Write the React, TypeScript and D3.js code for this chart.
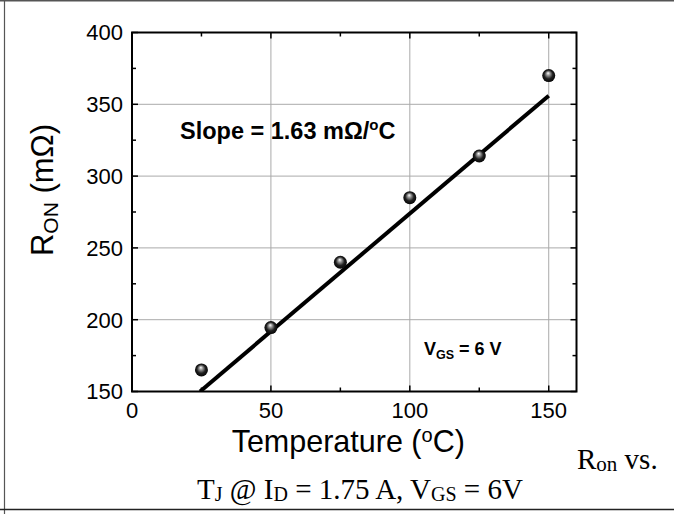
import React from "react";
import * as d3 from "d3";

const temps = [25, 50, 75, 100, 125, 150];
const ron = [165, 194.5, 240, 285, 314, 370];
const fitX = [24.5, 150];
const fitY = [150, 356];
const xTicks = [0, 50, 100, 150];
const xMinor = [25, 75, 125];
const yTicks = [150, 200, 250, 300, 350, 400];
const yMinor = [175, 225, 275, 325, 375];
const xGrid = [50, 100, 150];
const yGrid = [200, 250, 300, 350];

const W = 674, H = 514;
const L = 132, R = 576.5, T = 32.5, B = 391.5;

export default function App() {
  const x = d3.scaleLinear().domain([0, 160]).range([L, R]);
  const y = d3.scaleLinear().domain([150, 400]).range([B, T]);
  const line = d3.line<number>().x((d) => x(fitX[d])).y((d) => y(fitY[d]));
  const sans = "Arial, 'Liberation Sans', sans-serif";
  const serif = "'Times New Roman', 'Liberation Serif', serif";
  return (
    <svg width={W} height={H} style={{ position: "absolute", left: 0, top: 0, background: "#fff" }}>
      <defs>
        <radialGradient id="ball" cx="0.5" cy="0.5" r="0.55" fx="0.45" fy="0.3">
          <stop offset="0" stopColor="#ffffff" />
          <stop offset="0.25" stopColor="#9a9a9a" />
          <stop offset="0.6" stopColor="#202020" />
          <stop offset="1" stopColor="#000000" />
        </radialGradient>
        <clipPath id="plotclip">
          <rect x={L} y={T} width={R - L} height={B - T} />
        </clipPath>
      </defs>
      {/* page borders */}
      <line x1={0} x2={W} y1={0.5} y2={0.5} stroke="#555" strokeWidth={2} />
      <line x1={4.5} x2={4.5} y1={0} y2={514} stroke="#555" strokeWidth={1.2} />
      <line x1={0} x2={W} y1={509.5} y2={509.5} stroke="#222" strokeWidth={1.5} />
      {/* grid */}
      {xGrid.map((v) => (
        <line key={"gx" + v} x1={x(v)} x2={x(v)} y1={T} y2={B} stroke="#aaa" strokeWidth={1} />
      ))}
      {yGrid.map((v) => (
        <line key={"gy" + v} x1={L} x2={R} y1={y(v)} y2={y(v)} stroke="#aaa" strokeWidth={1} />
      ))}
      {/* ticks */}
      {xTicks.concat(xMinor).map((v) => {
        const len = xMinor.includes(v) ? 4 : 6;
        return (
          <g key={"tx" + v}>
            <line x1={x(v)} x2={x(v)} y1={B} y2={B - len} stroke="#000" strokeWidth={1.5} />
            <line x1={x(v)} x2={x(v)} y1={T} y2={T + len} stroke="#000" strokeWidth={1.5} />
          </g>
        );
      })}
      {yTicks.concat(yMinor).map((v) => {
        const len = yMinor.includes(v) ? 4 : 6;
        return (
          <g key={"ty" + v}>
            <line x1={L} x2={L + len} y1={y(v)} y2={y(v)} stroke="#000" strokeWidth={1.5} />
            <line x1={R} x2={R - len} y1={y(v)} y2={y(v)} stroke="#000" strokeWidth={1.5} />
          </g>
        );
      })}
      {/* frame */}
      <rect x={L} y={T} width={R - L} height={B - T} fill="none" stroke="#000" strokeWidth={2} />
      {/* tick labels */}
      {yTicks.map((v) => (
        <text key={"yl" + v} x={L - 9} y={y(v)} dy="0.36em" textAnchor="end" fontFamily={sans} fontSize={22}>
          {v}
        </text>
      ))}
      {xTicks.map((v) => (
        <text key={"xl" + v} x={x(v)} y={B + 26} textAnchor="middle" fontFamily={sans} fontSize={22}>
          {v}
        </text>
      ))}
      {/* fit line */}
      <path d={line([0, 1]) || ""} stroke="#000" strokeWidth={4} fill="none" clipPath="url(#plotclip)" />
      {/* points */}
      {temps.map((t, i) => (
        <circle key={"p" + t} cx={x(t)} cy={y(ron[i])} r={6.5} fill="url(#ball)" />
      ))}
      {/* annotations */}
      <text x={180} y={139} fontFamily={sans} fontWeight="bold" fontSize={23.5}>
        Slope = 1.63 mΩ/<tspan fontSize={15} dy={-9}>o</tspan>
        <tspan dy={9}>C</tspan>
      </text>
      <text x={424} y={355} fontFamily={sans} fontWeight="bold" fontSize={18}>
        V<tspan fontSize={12.5} dy={4}>GS</tspan>
        <tspan dy={-4}> = 6 V</tspan>
      </text>
      {/* axis titles */}
      <text x={(L + R) / 2 - 6} y={452} textAnchor="middle" fontFamily={sans} fontSize={30.5}>
        Temperature (<tspan fontSize={20} dy={-10}>o</tspan>
        <tspan dy={10}>C)</tspan>
      </text>
      <text transform={`translate(53,${190}) rotate(-90)`} textAnchor="middle" fontFamily={sans} fontSize={31}>
        R<tspan fontSize={21} dy={5}>ON</tspan>
        <tspan dy={-5}> (mΩ)</tspan>
      </text>
      {/* caption */}
      <text x={577} y={469} fontFamily={serif} fontSize={29}>
        R<tspan fontSize={21} dy={2}>on</tspan><tspan dy={-2}> vs.</tspan>
      </text>
      <text x={360} y={499} textAnchor="middle" fontFamily={serif} fontSize={29}>
        T<tspan fontSize={20} dy={2}>J</tspan><tspan dy={-2}> @ I</tspan><tspan fontSize={20} dy={2}>D</tspan><tspan dy={-2}> = 1.75 A, V</tspan><tspan fontSize={20} dy={2}>GS</tspan><tspan dy={-2}> = 6V</tspan>
      </text>
    </svg>
  );
}
